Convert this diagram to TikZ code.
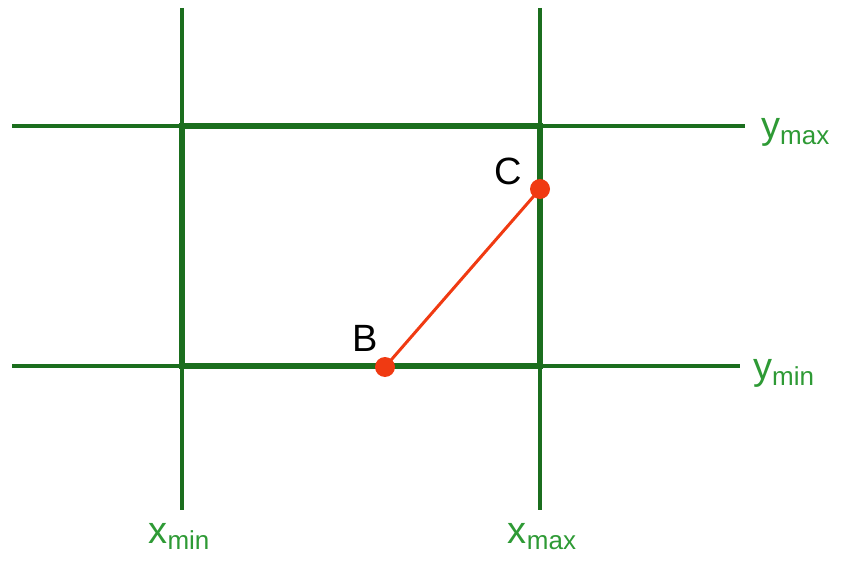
\documentclass[tikz,border=0pt]{standalone}
\usepackage{fontspec}
\setmainfont{Liberation Sans}
\definecolor{lineg}{HTML}{1B6E1E}
\definecolor{labg}{HTML}{2E9A35}
\definecolor{ptred}{HTML}{F03A12}
\begin{document}
\begin{tikzpicture}[x=1pt,y=-1pt,
  gline/.style={draw=lineg,line width=4.5pt},
  boxline/.style={draw=lineg,line width=5.5pt},
  lab/.style={text=labg,font=\fontsize{38}{42}\selectfont,inner sep=0pt},
  ptlab/.style={text=black,font=\fontsize{38}{42}\selectfont,inner sep=0pt},
  pt/.style={circle,fill=ptred,minimum size=20pt,inner sep=0pt}]
\useasboundingbox (0,0) rectangle (849,564);
% grid line end points
\coordinate (v1t) at (182,8);   \coordinate (v1b) at (182,510);
\coordinate (v2t) at (540,8);   \coordinate (v2b) at (540,510);
\coordinate (h1l) at (12,126);  \coordinate (h1r) at (745,126);
\coordinate (h2l) at (12,366);  \coordinate (h2r) at (740,366);
\coordinate (bl) at (182,366);  \coordinate (tr) at (540,126);
\draw[gline] (v1t) -- (v1b);
\draw[gline] (v2t) -- (v2b);
\draw[gline] (h1l) -- (h1r);
\draw[gline] (h2l) -- (h2r);
\draw[boxline] (bl) rectangle (tr);
% labels
\node[lab,anchor=base west] (ymax) at (761,139) {y\raisebox{-6pt}{\fontsize{26}{28}\selectfont max}};
\node[lab,anchor=base west] (ymin) at (753,379) {y\raisebox{-6pt}{\fontsize{26}{28}\selectfont min}};
\node[lab,anchor=base] (xmin) at (179,543) {x\raisebox{-6pt}{\fontsize{26}{28}\selectfont min}};
\node[lab,anchor=base] (xmax) at (542,543) {x\raisebox{-6pt}{\fontsize{26}{28}\selectfont max}};
% segment
\node[pt] (B) at (385,367) {};
\node[pt] (C) at (540,189) {};
\draw[ptred,line width=3pt] (B.center) -- (C.center);
\node[ptlab] (Bl) at (365,338) {B};
\node[ptlab] (Cl) at (508,171) {C};
\end{tikzpicture}
\end{document}
